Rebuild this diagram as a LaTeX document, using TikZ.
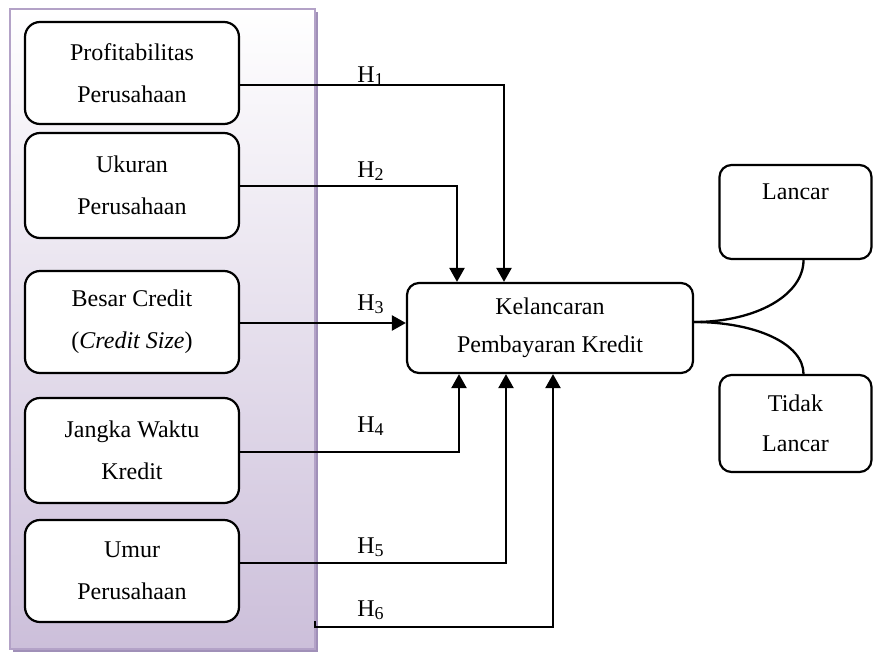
\documentclass[tikz,border=0pt]{standalone}
\usepackage{fontspec}
\setmainfont{Liberation Serif}
\usetikzlibrary{arrows.meta,calc}
\definecolor{pborder}{HTML}{B3A2C7}
\definecolor{pshadow}{HTML}{A090B8}
\definecolor{pfill}{HTML}{CCBFDA}
\newcommand{\hsub}[1]{H\raisebox{-0.3ex}{\fontsize{9}{9}\selectfont #1}}
\begin{document}
\begin{tikzpicture}[x=0.5pt,y=-0.5pt,
  box/.style={draw, line width=1.1pt, rounded corners=7.5pt, fill=white, align=center,
    font=\fontsize{12}{21}\selectfont, inner sep=0pt},
  conn/.style={line width=1.15pt},
  arr/.style={line width=1.15pt,-{Triangle[width=7.5pt,length=7pt]}},
  hlab/.style={anchor=base west, font=\fontsize{12}{14}\selectfont, inner sep=0pt}]
\useasboundingbox (0,0) rectangle (873,659);
% panel
\fill[pshadow] (13,12) rectangle (318,652);
\shade[top color=white, bottom color=pfill, draw=pborder, line width=1.2pt] (10,9) rectangle (315,649);
% left boxes
\node[box, minimum width=107pt, minimum height=51pt] (b1) at (132,73) {Profitabilitas\\Perusahaan};
\node[box, minimum width=107pt, minimum height=52.5pt] (b2) at (132,185.5) {Ukuran\\Perusahaan};
\node[box, minimum width=107pt, minimum height=51pt] (b3) at (132,322) {Besar Credit\\(\textit{Credit Size})};
\node[box, minimum width=107pt, minimum height=52.5pt] (b4) at (132,450.5) {Jangka Waktu\\Kredit};
\node[box, minimum width=107pt, minimum height=51pt] (b5) at (132,571) {Umur\\Perusahaan};
% central box
\node[box, minimum width=143pt, minimum height=45pt, rounded corners=6pt,
  font=\fontsize{12}{19}\selectfont] (K) at (550,328) {Kelancaran\\Pembayaran Kredit};
% right boxes
\node[box, minimum width=76pt, minimum height=47pt, rounded corners=6pt] (L) at (795.5,212) {};
\node[font=\fontsize{12}{14}\selectfont, inner sep=0pt] (Lt) at ($(L.north)+(0,28)$) {Lancar};
\node[box, minimum width=76pt, minimum height=48.5pt, rounded corners=6pt,
  font=\fontsize{12}{20}\selectfont] (T) at (795.5,423.5) {Tidak\\Lancar};
% connectors
\draw[arr] ($(b1.east)+(0,12)$) -| ($(K.north)+(-46,0)$);
\draw[arr] ($(b2.east)+(0,0.5)$) -| ($(K.north)+(-93,0)$);
\draw[arr] ($(b3.east)+(0,1)$) -- ($(K.west)+(0,-5)$);
\draw[arr] ($(b4.east)+(0,1.5)$) -| ($(K.south)+(-91,0)$);
\draw[arr] ($(b5.east)+(0,-8)$) -| ($(K.south)+(-44,0)$);
\coordinate (h6) at (315,621);
\draw[arr] (h6) -- ++(0,6) -| ($(K.south)+(3,0)$);
% labels
\node[hlab] (l1) at (357,82) {\hsub{1}};
\node[hlab] (l2) at (357,177) {\hsub{2}};
\node[hlab] (l3) at (357,310) {\hsub{3}};
\node[hlab] (l4) at (357,432) {\hsub{4}};
\node[hlab] (l5) at (357,553) {\hsub{5}};
\node[hlab] (l6) at (357,616) {\hsub{6}};
% curves
\draw[conn] ($(K.east)+(0,-6)$) .. controls +(62,0) and +(0,35) .. ($(L.south)+(8,0)$);
\draw[conn] ($(K.east)+(0,-6)$) .. controls +(62,0) and +(0,-30) .. ($(T.north)+(8,0)$);
\end{tikzpicture}
\end{document}
